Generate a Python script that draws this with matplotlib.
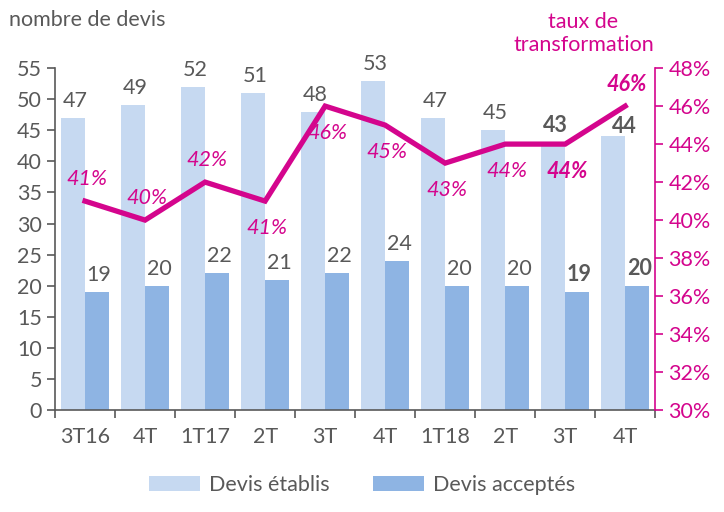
import matplotlib
matplotlib.use("Agg")
import matplotlib.pyplot as plt
import numpy as np

# data
quarters = ["3T16", "4T", "1T17", "2T", "3T", "4T", "1T18", "2T", "3T", "4T"]
devis_etablis = [47, 49, 52, 51, 48, 53, 47, 45, 43, 44]
devis_acceptes = [19, 20, 22, 21, 22, 24, 20, 20, 19, 20]
taux = [41, 40, 42, 41, 46, 45, 43, 44, 44, 46]
taux_label_above = [True, True, True, False, False, False, False, False, False, True]
bold_from = 8  # last two quarters labelled in bold

LIGHT = "#c6d9f1"
DARK = "#8eb4e3"
GRAY = "#595959"
MAGENTA = "#d4058d"
FS = 15.5

plt.rcParams["font.family"] = ["Lato", "DejaVu Sans"]

fig = plt.figure(figsize=(7.24, 5.12), dpi=100)
ax = fig.add_axes([0.076, 0.199, 0.829, 0.668])
ax2 = ax.twinx()

x = np.arange(len(quarters))
w = 0.4
ax.bar(x - w / 2, devis_etablis, w, color=LIGHT, label="Devis établis", zorder=2)
ax.bar(x + w / 2, devis_acceptes, w, color=DARK, label="Devis acceptés", zorder=2)

for i in x:
    weight = "bold" if i >= bold_from else "normal"
    # last "44" label was nudged right/down in the original so the line clears it
    off = (11, -1) if i == len(quarters) - 1 else (2, 7)
    ax.annotate(str(devis_etablis[i]), (i - w / 2, devis_etablis[i]), xytext=off,
                textcoords="offset pixels", ha="center", va="bottom",
                fontsize=FS, color=GRAY, fontweight=weight)
    ax.annotate(str(devis_acceptes[i]), (i + w / 2, devis_acceptes[i]), xytext=(2, 7),
                textcoords="offset pixels", ha="center", va="bottom",
                fontsize=FS, color=GRAY, fontweight=weight)

ax.set_xlim(-0.5, len(quarters) - 0.5)
ax.set_ylim(0, 55)
ax.set_yticks(range(0, 56, 5))
ax.set_xticks(x)
ax.set_xticklabels(quarters)
ax.set_xticks(np.arange(-0.5, len(quarters)), minor=True)
ax.tick_params(axis="x", which="major", length=0, pad=12, labelsize=FS, colors=GRAY)
ax.tick_params(axis="x", which="minor", length=6, width=1.2, color=GRAY)
ax.tick_params(axis="y", length=6, width=1.2, color=GRAY, labelcolor=GRAY, labelsize=FS)
for s in ["top", "right"]:
    ax.spines[s].set_visible(False)
for s in ["left", "bottom"]:
    ax.spines[s].set_color(GRAY)
    ax.spines[s].set_linewidth(1.2)

# transformation rate on the right axis
ax2.plot(x, taux, color=MAGENTA, lw=3.8, solid_joinstyle="miter", zorder=3)
for i in x:
    style = dict(fontsize=FS, color=MAGENTA, style="italic", ha="center", va="center",
                 fontweight="bold" if i >= bold_from else "normal")
    dy = 22 if taux_label_above[i] else -27
    ax2.annotate(f"{taux[i]}%", (i, taux[i]), xytext=(2, dy),
                 textcoords="offset pixels", **style)
ax2.set_ylim(30, 48)
ax2.set_yticks(range(30, 49, 2))
ax2.set_yticklabels([f"{t}%" for t in range(30, 49, 2)])
ax2.tick_params(axis="y", length=6, width=1.2, color=MAGENTA, labelcolor=MAGENTA,
                labelsize=FS)
for s in ["top", "left", "bottom"]:
    ax2.spines[s].set_visible(False)
ax2.spines["right"].set_color(MAGENTA)
ax2.spines["right"].set_linewidth(1.2)

fig.text(0.012, 0.96, "nombre de devis", fontsize=FS, color=GRAY, va="center")
fig.text(0.806, 0.935, "taux de\ntransformation", fontsize=FS, color=MAGENTA,
         ha="center", va="center", linespacing=1.2)

fig.legend(loc="lower center", bbox_to_anchor=(0.5, -0.005), ncol=2, frameon=False,
           fontsize=FS, labelcolor=GRAY, handlelength=2.4, handleheight=0.65,
           columnspacing=2.0, handletextpad=0.4)

fig.savefig("out.png", dpi=100)
